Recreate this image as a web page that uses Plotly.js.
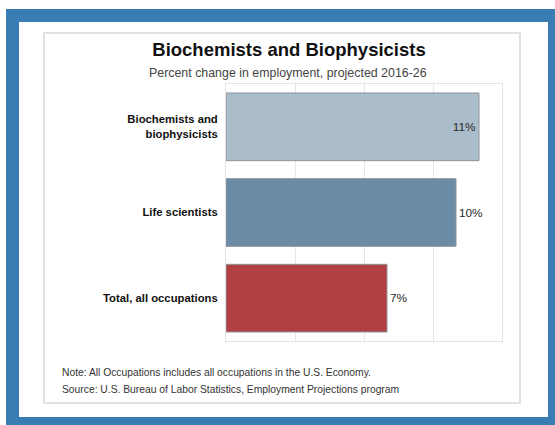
<!DOCTYPE html>
<html>
<head>
<meta charset="utf-8">
<script src="https://cdn.plot.ly/plotly-3.0.1.min.js"></script>
<style>html,body{margin:0;padding:0;background:#fff;}#chart{width:555px;height:425px;}</style>
</head>
<body>
<div id="chart"></div>
<script>
const categories = ['Biochemists and<br>biophysicists', 'Life scientists', 'Total, all occupations'];
const values = [11, 10, 7];
const valueLabels = ['11%', '10%', '7%'];
const titleText = 'Biochemists and Biophysicists';
const subtitleText = 'Percent change in employment, projected 2016-26';
const noteText = 'Note: All Occupations includes all occupations in the U.S. Economy.';
const sourceText = 'Source: U.S. Bureau of Labor Statistics, Employment Projections program';

const barColors = ['#abbccb', '#6b8ba6', '#b23f41'];

const W = 555, H = 425;
const L = 226, R = 502, T = 84, B = 341;
const px = x => (x - L) / (R - L);
const py = y => (B - y) / (B - T);
const FONT = 'Liberation Sans, Arial, sans-serif';

const trace = {
  type: 'bar',
  orientation: 'h',
  y: categories,
  x: values,
  text: valueLabels,
  texttemplate: '%{text}',
  textposition: ['inside', 'outside', 'outside'],
  insidetextanchor: 'end',
  constraintext: 'none',
  cliponaxis: false,
  textfont: {family: FONT, size: 11.8, color: '#2a2a2a'},
  insidetextfont: {family: FONT, size: 11.8, color: '#2a2a2a'},
  outsidetextfont: {family: FONT, size: 11.8, color: '#2a2a2a'},
  marker: {color: barColors, line: {color: '#8f9499', width: 1}},
  hoverinfo: 'skip'
};

const layout = {
  width: W, height: H,
  margin: {l: L, r: W - R, t: T, b: H - B, pad: 0},
  paper_bgcolor: '#ffffff',
  plot_bgcolor: 'rgba(0,0,0,0)',
  showlegend: false,
  bargap: 0.21,
  title: {
    text: '<b>' + titleText + '</b>',
    font: {family: FONT, size: 18.5, color: '#111'},
    xref: 'container', yref: 'container',
    x: 289 / W, xanchor: 'center',
    y: 1 - 50 / H, yanchor: 'middle'
  },
  xaxis: {
    range: [0, 12], dtick: 3, tick0: 0,
    showticklabels: false, ticks: '',
    showgrid: true, gridcolor: '#e6e6e6', gridwidth: 1,
    zeroline: false,
    showline: true, linecolor: '#e3e3e3', linewidth: 1, mirror: true,
    fixedrange: true
  },
  yaxis: {
    autorange: 'reversed',
    ticks: '', ticklabelstandoff: 5,
    tickfont: {family: FONT, size: 11.3, color: '#111', weight: 'bold'},
    showgrid: false, zeroline: false,
    showline: true, linecolor: '#e3e3e3', linewidth: 1, mirror: true,
    fixedrange: true
  },
  shapes: [
    {type: 'rect', xref: 'paper', yref: 'paper', layer: 'below',
     x0: px(6), x1: px(555), y0: py(425), y1: py(9),
     fillcolor: '#3a7db5', line: {width: 0}},
    {type: 'rect', xref: 'paper', yref: 'paper', layer: 'below',
     x0: px(19), x1: px(548), y0: py(417), y1: py(22),
     fillcolor: '#ffffff', line: {width: 0}},
    {type: 'rect', xref: 'paper', yref: 'paper', layer: 'below',
     x0: px(44), x1: px(520), y0: py(403), y1: py(33),
     fillcolor: '#ffffff', line: {color: '#e2e2e2', width: 2}}
  ],
  annotations: [
    {text: subtitleText, xref: 'paper', yref: 'paper', x: px(288), y: py(73),
     xanchor: 'center', yanchor: 'middle', showarrow: false,
     font: {family: FONT, size: 12.4, color: '#444'}},
    {text: noteText, xref: 'paper', yref: 'paper', x: px(60), y: py(372),
     xanchor: 'left', yanchor: 'middle', showarrow: false,
     font: {family: FONT, size: 10.3, color: '#333'}},
    {text: sourceText, xref: 'paper', yref: 'paper', x: px(60), y: py(389),
     xanchor: 'left', yanchor: 'middle', showarrow: false,
     font: {family: FONT, size: 10.3, color: '#333'}}
  ]
};

Plotly.newPlot('chart', [trace], layout, {staticPlot: true, displayModeBar: false});
</script>
</body>
</html>
